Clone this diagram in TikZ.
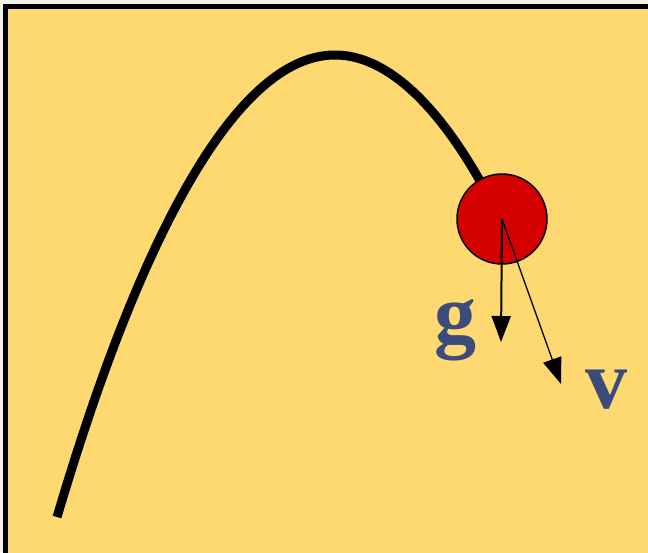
\documentclass[tikz,border=0pt]{standalone}
\usepackage{fontspec}
\setmainfont{Liberation Serif}
\usetikzlibrary{arrows.meta}

\definecolor{paperedge}{HTML}{F3F3EC}
\definecolor{bgyellow}{HTML}{FED870}
\definecolor{ballred}{HTML}{D40000}
\definecolor{labelblue}{HTML}{3B4B7B}

\begin{document}
\begin{tikzpicture}[
  x=1pt, y=-1pt,
  ball/.style={circle, draw=black, line width=1.5pt, fill=ballred, minimum size=90pt, inner sep=0pt},
  vec/.style={-{Triangle[length=26pt, width=19pt]}, black},
  veclabel/.style={font=\bfseries\fontsize{84}{84}\selectfont, text=labelblue, inner sep=0pt}
]

% Frame: only the top and left edges show.
\useasboundingbox (0,0) rectangle (648,552);
\clip (0,0) rectangle (648,552);
\fill[paperedge] (0,0) rectangle (648,552);
\draw[line width=5pt, fill=bgyellow] (5.5,6.5) rectangle (700,600);

% Trajectory.
\draw[line width=9pt] (57,517) parabola bend (335,55) (490,199);

% Ball and its vectors.
\node[ball] (ball) at (502,219) {};
\coordinate (gend) at (501,342);
\coordinate (vend) at (561,384);
\draw[vec, line width=2pt] (ball.center) -- (gend);
\draw[vec, line width=1.3pt] (ball.center) -- (vend);

% Labels.
\node[veclabel] (glabel) at (455,330) {g};
\node[veclabel] (vlabel) at (606,390) {v};

\end{tikzpicture}
\end{document}
